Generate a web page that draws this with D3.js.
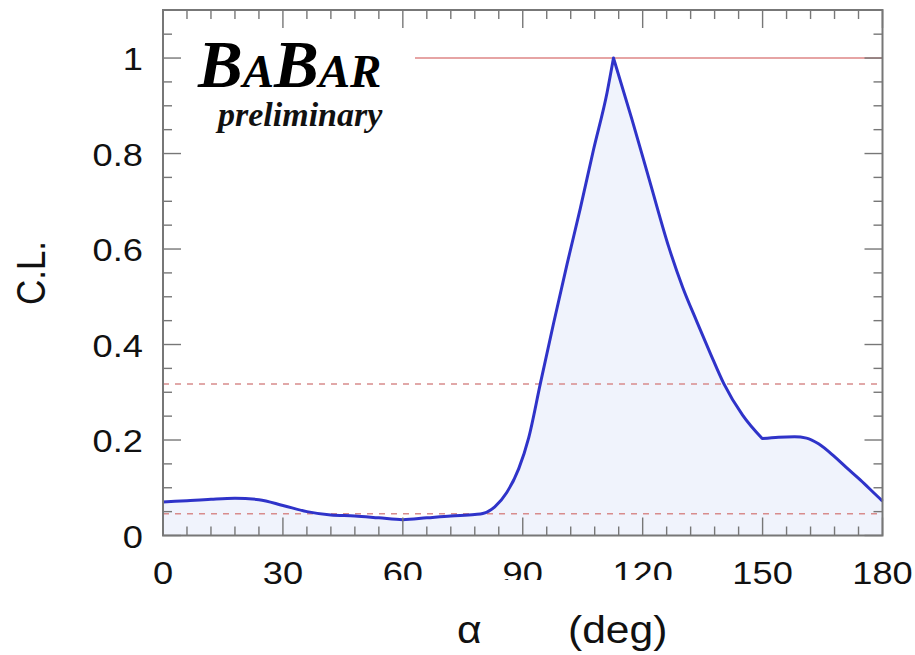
<!DOCTYPE html>
<html>
<head>
<meta charset="utf-8">
<script src="https://cdn.jsdelivr.net/npm/d3@7"></script>
<style>
  html, body { margin: 0; padding: 0; background: #fff; }
  svg { display: block; }
</style>
</head>
<body>
<svg id="chart" width="915" height="655"></svg>
<script>
// Confidence level as a function of alpha (degrees)
const alphaDeg = [0, 6, 12, 18, 24, 30, 36, 42, 48, 54, 60, 66, 72, 78, 80,
  83, 86, 89, 91.5, 94.4, 97.7, 101.1, 104.4, 107.7, 111.1, 112.7,
  117.3, 121.9, 126.5, 130, 133.6, 137, 140.3, 145, 149.9,
  154, 158, 161, 164, 168, 171, 174.5, 178, 180];
const confLevel = [0.070, 0.073, 0.076, 0.078, 0.075, 0.063, 0.050, 0.043, 0.041, 0.037, 0.033, 0.037, 0.041, 0.044, 0.046,
  0.060, 0.090, 0.140, 0.205, 0.318, 0.444, 0.569, 0.685, 0.808, 0.928, 1.0,
  0.872, 0.738, 0.605, 0.520, 0.447, 0.380, 0.318, 0.252, 0.203,
  0.206, 0.207, 0.204, 0.192, 0.165, 0.142, 0.116, 0.088, 0.072];

// angles where the curve has a corner (the maximum and the knee at 150 deg)
const cornerDeg = [112.7, 149.9];

// Reference levels: 1 sigma and 2 sigma, plus the CL = 1 line
const sigmaLevels = [0.3173, 0.0455];
const topLevel = 1;

const xTickLabels = [0, 30, 60, 90, 120, 150, 180];
const yTickLabels = [0, 0.2, 0.4, 0.6, 0.8, 1];

const svg = d3.select("#chart");
const plotLeft = 163, plotRight = 882.5, plotTop = 10, plotBottom = 535.5;

const x = d3.scaleLinear().domain([0, 180]).range([plotLeft, plotRight]);
const y = d3.scaleLinear().domain([0, 1.1]).range([plotBottom, plotTop + 0.3]);

const pts = alphaDeg.map((a, i) => [a, confLevel[i]]);

// split into smooth pieces at the corners, each piece interpolated on its own
const pieces = [];
let cur = [];
pts.forEach(p => {
  cur.push(p);
  if (cornerDeg.includes(p[0])) { pieces.push(cur); cur = [p]; }
});
pieces.push(cur);

const lineGen = d3.line().x(d => x(d[0])).y(d => y(d[1])).curve(d3.curveMonotoneX);
const curvePath = pieces.map((seg, i) => {
  const d = lineGen(seg);
  return i ? d.replace(/^M/, "L") : d;
}).join("");

// shaded area under the curve
svg.append("path")
  .attr("fill", "rgb(240,243,252)")
  .attr("d", curvePath + `L${x(180)},${y(0)}L${x(0)},${y(0)}Z`);

// sigma lines
svg.selectAll("line.sigma")
  .data(sigmaLevels)
  .join("line")
  .attr("class", "sigma")
  .attr("x1", plotLeft).attr("x2", plotRight)
  .attr("y1", d => y(d)).attr("y2", d => y(d))
  .attr("stroke", "#d88c8c")
  .attr("stroke-width", 1.5)
  .attr("stroke-dasharray", "6,6");

// CL = 1 line
svg.append("line")
  .attr("x1", 415).attr("x2", plotRight)
  .attr("y1", y(topLevel)).attr("y2", y(topLevel))
  .attr("stroke", "#e6a4a4")
  .attr("stroke-width", 2);

// curve
svg.append("path")
  .attr("fill", "none")
  .attr("stroke", "#2f33c9")
  .attr("stroke-width", 3)
  .attr("stroke-linejoin", "round")
  .attr("d", curvePath);

// frame and inward ticks on all four sides
const axisColor = "#777";
const xMinor = d3.range(0, 181, 6);
const yMinor = d3.range(0, 1.1001, 0.05).map(v => +v.toFixed(2));
const isMajorX = v => v % 30 === 0;
const isMajorY = v => Math.abs(v * 5 - Math.round(v * 5)) < 1e-6;
const majLen = 18, minLen = 9;

const ticks = svg.append("g").attr("stroke", axisColor).attr("stroke-width", 1.4);
xMinor.forEach(v => {
  const L = isMajorX(v) ? majLen : minLen;
  ticks.append("line").attr("x1", x(v)).attr("x2", x(v)).attr("y1", plotBottom).attr("y2", plotBottom - L);
  ticks.append("line").attr("x1", x(v)).attr("x2", x(v)).attr("y1", plotTop).attr("y2", plotTop + L);
});
yMinor.forEach(v => {
  const L = isMajorY(v) ? majLen : minLen;
  ticks.append("line").attr("x1", plotLeft).attr("x2", plotLeft + L).attr("y1", y(v)).attr("y2", y(v));
  ticks.append("line").attr("x1", plotRight).attr("x2", plotRight - L).attr("y1", y(v)).attr("y2", y(v));
});

svg.append("rect")
  .attr("x", plotLeft).attr("y", plotTop)
  .attr("width", plotRight - plotLeft).attr("height", plotBottom - plotTop)
  .attr("fill", "none")
  .attr("stroke", axisColor)
  .attr("stroke-width", 2);

// tick labels
const sans = "'Liberation Sans', Arial, Helvetica, sans-serif";
const stretch = 1.17;
const lab = svg.append("g")
  .attr("font-family", sans)
  .attr("font-size", 31)
  .attr("fill", "#111");

xTickLabels.forEach(v => {
  lab.append("text")
    .attr("transform", `translate(${x(v)},584) scale(${stretch},1)`)
    .attr("text-anchor", "middle")
    .text(d3.format("d")(v));
});
yTickLabels.forEach(v => {
  lab.append("text")
    .attr("transform", `translate(143,${y(v) + 12}) scale(${stretch},1)`)
    .attr("text-anchor", "end")
    .text(v === 0 ? "0" : v === 1 ? "1" : d3.format(".1f")(v));
});

// backdrop behind the x-axis title
svg.append("rect")
  .attr("x", 377).attr("y", 580)
  .attr("width", 336).attr("height", 75)
  .attr("fill", "#fff");

// axis titles
svg.append("text")
  .attr("transform", `translate(457,643) scale(1.12,1)`)
  .attr("font-family", sans).attr("font-size", 38).attr("fill", "#111")
  .text("α");
svg.append("text")
  .attr("transform", `translate(568,643) scale(1.12,1)`)
  .attr("font-family", sans).attr("font-size", 38).attr("fill", "#111")
  .text("(deg)");
svg.append("text")
  .attr("transform", `translate(45,273) scale(1.15,1) rotate(-90)`)
  .attr("text-anchor", "middle")
  .attr("font-family", sans).attr("font-size", 35).attr("fill", "#111")
  .text("C.L.");

// experiment logo
const serif = "'Liberation Serif', 'Times New Roman', serif";
const logo = svg.append("text")
  .attr("x", 198).attr("y", 87)
  .attr("font-family", serif)
  .attr("font-weight", "bold")
  .attr("font-style", "italic")
  .attr("fill", "#000");
logo.append("tspan").attr("font-size", 67).text("B");
logo.append("tspan").attr("font-size", 47).text("A");
logo.append("tspan").attr("font-size", 67).text("B");
logo.append("tspan").attr("font-size", 47).text("AR");

svg.append("text")
  .attr("x", 218).attr("y", 126)
  .attr("font-family", serif)
  .attr("font-weight", "bold")
  .attr("font-style", "italic")
  .attr("font-size", 34)
  .attr("fill", "#111")
  .text("preliminary");
</script>
</body>
</html>
